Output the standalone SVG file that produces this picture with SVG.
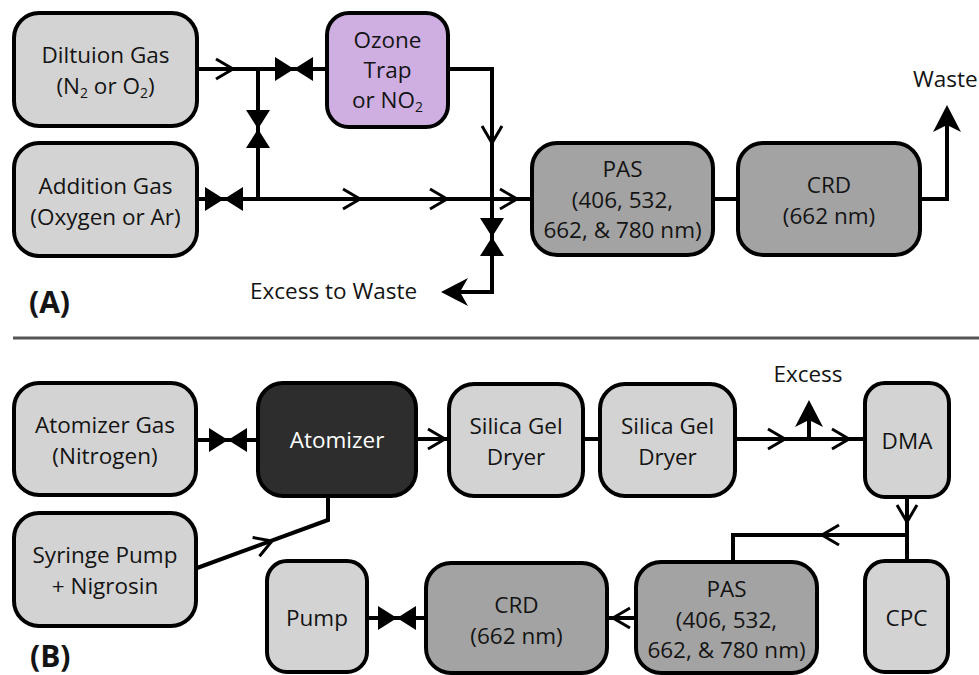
<svg xmlns="http://www.w3.org/2000/svg" width="979" height="675" viewBox="0 0 979 675">
<style>
.box{stroke:#000;stroke-width:4}
.light{fill:#d3d3d3}
.mid{fill:#a3a3a3}
.dark{fill:#2d2d2d}
.ozone{fill:#cfafe2}
text{font-family:"Open Sans","DejaVu Sans",sans-serif;font-size:22.5px;text-anchor:middle;fill:#141414}
.white{fill:#fff}
.lbl{font-weight:bold;font-size:30px;text-anchor:start}
.start{text-anchor:start}
.sub{font-size:14px}
.line{fill:none;stroke:#000;stroke-width:4}
.chev{fill:none;stroke:#000;stroke-width:3}
.fill{fill:#000}
</style>
<defs>
<path id="chev" class="chev" d="M-17,-10 L0,0 L-17,10"/>
<path id="valve" class="fill" d="M-19,-12 L0,0 L-19,12 Z M19,-12 L0,0 L19,12 Z"/>
</defs>

<g id="connectors">
<!-- Panel A -->
<path class="line" d="M197,69 H327"/>
<path class="line" d="M258,69 V199"/>
<path class="line" d="M197,199 H532"/>
<path class="line" d="M448,69 H492 V292 H455"/>
<path class="line" d="M713,199 H738"/>
<path class="line" d="M920,199 H947 V118"/>
<use href="#chev" transform="translate(233,69)"/>
<use href="#valve" transform="translate(294,69)"/>
<use href="#valve" transform="translate(258,129) rotate(90)"/>
<use href="#valve" transform="translate(224,199)"/>
<use href="#chev" transform="translate(360,199)"/>
<use href="#chev" transform="translate(447,199)"/>
<use href="#chev" transform="translate(517,199)"/>
<use href="#chev" transform="translate(492,143) rotate(90)"/>
<use href="#valve" transform="translate(492,237) rotate(90)"/>
<path class="fill" d="M441,292 L468,278 L460,292 L468,306 Z"/>
<path class="fill" d="M947,105 L961,132 L947,125 L933,132 Z"/>
<!-- Panel B -->
<path class="line" d="M195,440 H258"/>
<use href="#valve" transform="translate(228,440)"/>
<path class="line" d="M416,439 H449"/>
<use href="#chev" transform="translate(445,439)"/>
<path class="line" d="M583,439 H600"/>
<path class="line" d="M735,439 H865"/>
<use href="#chev" transform="translate(785,439)"/>
<use href="#chev" transform="translate(849,439)"/>
<path class="line" d="M809,439 V412"/>
<path class="fill" d="M809,400 L823,427 L809,420 L795,427 Z"/>
<path class="line" d="M197,568 L328,520 V496"/>
<use href="#chev" transform="translate(272,541) rotate(-20.1)"/>
<path class="line" d="M907,497 V561"/>
<use href="#chev" transform="translate(907,522) rotate(90)"/>
<path class="line" d="M907,535 H733 V562"/>
<use href="#chev" transform="translate(822,535) rotate(180)"/>
<path class="line" d="M636,618 H607"/>
<use href="#chev" transform="translate(613,618) rotate(180)"/>
<path class="line" d="M367,618 H426"/>
<use href="#valve" transform="translate(397,618)"/>
</g>

<g id="dilution-gas">
<rect class="box light" x="14" y="13" width="183" height="113" rx="25"/>
<text x="105.5" y="63">Diltuion Gas</text>
<text x="105.5" y="94">(N<tspan class="sub" dy="4">2</tspan><tspan dy="-4"> or O</tspan><tspan class="sub" dy="4">2</tspan><tspan dy="-4">)</tspan></text>
</g>
<g id="addition-gas">
<rect class="box light" x="14" y="143" width="183" height="113" rx="25"/>
<text x="105.5" y="194">Addition Gas</text>
<text x="105.5" y="225">(Oxygen or Ar)</text>
</g>
<g id="ozone-trap">
<rect class="box ozone" x="327" y="13" width="121" height="114" rx="22"/>
<text x="387.5" y="48">Ozone</text>
<text x="387.5" y="78">Trap</text>
<text x="387.5" y="108">or NO<tspan class="sub" dy="4">2</tspan></text>
</g>
<g id="pas-a">
<rect class="box mid" x="532" y="143" width="181" height="112" rx="25"/>
<text x="622.5" y="177">PAS</text>
<text x="622.5" y="208">(406, 532,</text>
<text x="622.5" y="238">662, &amp; 780 nm)</text>
</g>
<g id="crd-a">
<rect class="box mid" x="738" y="143" width="182" height="112" rx="25"/>
<text x="829" y="193">CRD</text>
<text x="829" y="224">(662 nm)</text>
</g>
<g id="waste-label"><text class="start" x="913" y="87">Waste</text></g>
<g id="excess-waste-label"><text class="start" x="250" y="299">Excess to Waste</text></g>
<g id="label-a"><text class="lbl" x="29" y="313">(A)</text></g>

<line x1="13" y1="338" x2="979" y2="338" stroke="#555" stroke-width="3"/>

<g id="atomizer-gas">
<rect class="box light" x="14" y="383" width="182" height="112" rx="25"/>
<text x="105" y="433">Atomizer Gas</text>
<text x="105" y="464">(Nitrogen)</text>
</g>
<g id="atomizer">
<rect class="box dark" x="258" y="383" width="158" height="113" rx="25"/>
<text class="white" x="337" y="448">Atomizer</text>
</g>
<g id="syringe-pump">
<rect class="box light" x="14" y="513" width="182" height="113" rx="25"/>
<text x="105" y="563">Syringe Pump</text>
<text x="105" y="594">+ Nigrosin</text>
</g>
<g id="silica-1">
<rect class="box light" x="449" y="384" width="134" height="112" rx="25"/>
<text x="516" y="434">Silica Gel</text>
<text x="516" y="465">Dryer</text>
</g>
<g id="silica-2">
<rect class="box light" x="600" y="384" width="135" height="112" rx="25"/>
<text x="667.5" y="434">Silica Gel</text>
<text x="667.5" y="465">Dryer</text>
</g>
<g id="excess-label"><text x="808" y="382">Excess</text></g>
<g id="dma">
<rect class="box light" x="865" y="383" width="84" height="114" rx="20"/>
<text x="907" y="449">DMA</text>
</g>
<g id="cpc">
<rect class="box light" x="865" y="561" width="83" height="111" rx="20"/>
<text x="906.5" y="626">CPC</text>
</g>
<g id="pas-b">
<rect class="box mid" x="636" y="562" width="181" height="111" rx="25"/>
<text x="726.5" y="597">PAS</text>
<text x="726.5" y="628">(406, 532,</text>
<text x="726.5" y="658">662, &amp; 780 nm)</text>
</g>
<g id="crd-b">
<rect class="box mid" x="426" y="563" width="181" height="110" rx="25"/>
<text x="516.5" y="613">CRD</text>
<text x="516.5" y="644">(662 nm)</text>
</g>
<g id="pump">
<rect class="box light" x="267" y="561" width="100" height="111" rx="20"/>
<text x="317" y="626">Pump</text>
</g>
<g id="label-b"><text class="lbl" x="30" y="667">(B)</text></g>
</svg>
